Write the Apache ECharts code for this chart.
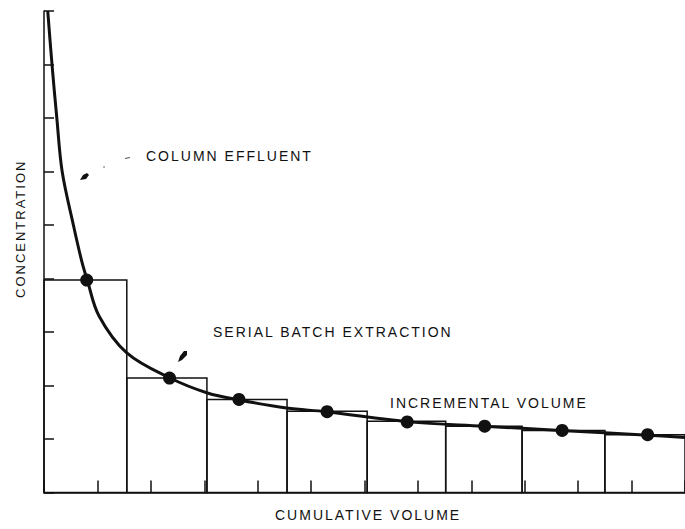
<!DOCTYPE html>
<html><head><meta charset="utf-8">
<script src="https://cdn.jsdelivr.net/npm/echarts@6/dist/echarts.min.js"></script>
<style>
html,body{margin:0;padding:0;background:#fff;}
#chart{width:685px;height:529px;}
#chart text{letter-spacing:2px;}
</style></head><body><div id="chart"></div>
<script>
// Column effluent curve
const curveX = [0.07, 0.15, 0.24, 0.34, 0.55, 0.70, 0.81, 1.03, 1.55, 2.36, 3.06, 3.65, 4.54, 5.28, 6.83, 8.23, 9.67, 11.31, 12];
const curveY = [9.0, 8.0, 7.0, 6.0, 5.0, 4.35, 3.97, 3.30, 2.61, 2.14, 1.86, 1.73, 1.58, 1.51, 1.32, 1.24, 1.16, 1.07, 1.03];
// Serial batch extraction points
const batchX = [0.8, 2.35, 3.65, 5.3, 6.8, 8.25, 9.7, 11.3];
const batchY = [3.97, 2.14, 1.74, 1.51, 1.32, 1.24, 1.16, 1.08];
// Incremental volume steps
const barEdges = [0, 1.55, 3.05, 4.55, 6.05, 7.52, 8.95, 10.5, 12];
const barHeights = [3.97, 2.14, 1.74, 1.52, 1.33, 1.24, 1.16, 1.08];
// Texts
const yTitle = 'CONCENTRATION';
const xTitle = 'CUMULATIVE VOLUME';
const noteColumn = 'COLUMN EFFLUENT';
const noteBatch = 'SERIAL BATCH EXTRACTION';
const noteIncrement = 'INCREMENTAL VOLUME';

const ink = '#111';
const font = '"Liberation Sans", Arial, Helvetica, sans-serif';

const chart = echarts.init(document.getElementById('chart'), null, {renderer: 'svg'});
const txt = (text, x, y, size) => ({
  type: 'text', x: x, y: y,
  style: {text: text, fill: ink, font: size + 'px ' + font, textAlign: 'left', textVerticalAlign: 'middle'}
});
chart.setOption({
  animation: false,
  backgroundColor: '#fff',
  grid: {left: 44, top: 11, width: 650, height: 481.5},
  xAxis: {
    type: 'value', min: 0, max: 12, interval: 1,
    axisLine: {show: true, lineStyle: {color: ink, width: 1.5}},
    axisTick: {show: true, inside: true, length: 12, lineStyle: {color: ink, width: 1.5}},
    axisLabel: {show: false}, splitLine: {show: false}
  },
  yAxis: {
    type: 'value', min: 0, max: 9, interval: 1,
    axisLine: {show: true, lineStyle: {color: ink, width: 1.5}},
    axisTick: {show: true, inside: true, length: 10, lineStyle: {color: ink, width: 1.5}},
    axisLabel: {show: false}, splitLine: {show: false}
  },
  series: [
    {
      type: 'custom', z: 2,
      data: barHeights.map((h, i) => [barEdges[i], barEdges[i + 1], h]),
      encode: {x: [0, 1], y: 2},
      renderItem: (params, api) => {
        const p0 = api.coord([api.value(0), api.value(2)]);
        const p1 = api.coord([api.value(1), 0]);
        return {type: 'rect', shape: {x: p0[0], y: p0[1], width: p1[0] - p0[0], height: p1[1] - p0[1]},
          style: {fill: 'none', stroke: ink, lineWidth: 1.5}};
      }
    },
    {
      type: 'line', z: 3, smooth: 0.35, symbol: 'none',
      lineStyle: {color: ink, width: 3},
      data: curveX.map((x, i) => [x, curveY[i]])
    },
    {
      type: 'scatter', z: 4, symbol: 'circle', symbolSize: 13,
      itemStyle: {color: ink, opacity: 1},
      data: batchX.map((x, i) => [x, batchY[i]])
    }
  ],
  graphic: [
    txt(noteColumn, 146, 156, 14),
    txt(noteBatch, 213, 332, 14),
    txt(noteIncrement, 390, 403, 14),
    txt(xTitle, 275, 515, 14),
    {type: 'text', x: 20, y: 298, rotation: Math.PI / 2,
      style: {text: yTitle, fill: ink, font: '13px ' + font, textAlign: 'left', textVerticalAlign: 'middle'}},
    {type: 'polygon', shape: {points: [[80, 180], [83, 175], [87, 173], [89, 175], [86, 179]]}, style: {fill: ink}},
    {type: 'polygon', shape: {points: [[178, 362], [180, 356], [184, 351], [187, 351], [187, 355], [182, 360]]}, style: {fill: ink}},
    {type: 'line', shape: {x1: 125, y1: 158.5, x2: 130, y2: 157.5}, style: {stroke: '#555', lineWidth: 1.2}},
    {type: 'circle', shape: {cx: 104, cy: 167, r: 0.8}, style: {fill: '#888'}}
  ]
});
</script></body></html>
